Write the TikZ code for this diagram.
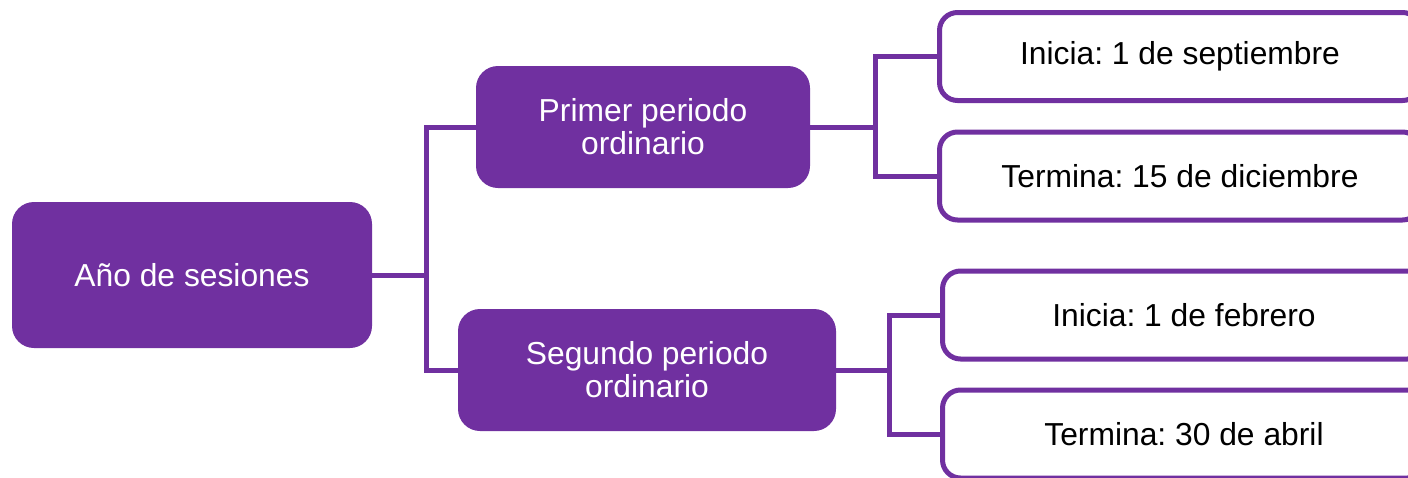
\documentclass[tikz,border=0pt]{standalone}
\usepackage{fontspec}
\setmainfont{Liberation Sans}
\frenchspacing
\definecolor{lila}{HTML}{7030A0}
\tikzset{
  filledbox/.style={fill=lila, text=white, rounded corners=22pt, align=center, inner sep=0pt,
    font=\fontsize{31.8}{33}\selectfont},
  outlinebox/.style={draw=lila, line width=5pt, fill=white, rounded corners=18pt, align=center, inner sep=0pt,
    minimum height=88pt, text=black, font=\fontsize{31.8}{33}\selectfont},
  link/.style={draw=lila, line width=5pt}
}
\begin{document}
\begin{tikzpicture}[x=1pt,y=-1pt]
\useasboundingbox (0,0) rectangle (1408,477);
\clip (0,0) rectangle (1408,477);
\node[filledbox, minimum width=360pt, minimum height=146pt] (root) at (192,275) {Año de sesiones};
\node[filledbox, minimum width=334pt, minimum height=122pt] (p1) at (643,127) {Primer periodo\\ordinario};
\node[filledbox, minimum width=378pt, minimum height=122pt] (p2) at (647,370) {Segundo periodo\\ordinario};
\node[outlinebox, minimum width=481pt] (b1) at (1180,56.5) {Inicia: 1 de septiembre};
\node[outlinebox, minimum width=481pt] (b2) at (1180,176) {Termina: 15 de diciembre};
\node[outlinebox, minimum width=483pt] (b3) at (1184,315) {Inicia: 1 de febrero};
\node[outlinebox, minimum width=483pt] (b4) at (1184,434) {Termina: 30 de abril};
\coordinate (j1) at (426,275);
\coordinate (j2) at (875,127);
\coordinate (j3) at (889,370);
\draw[link] (root.east) -- (j1) |- (p1.west);
\draw[link] (j1) |- (p2.west);
\draw[link] (p1.east) -- (j2) |- (b1.west);
\draw[link] (j2) |- (b2.west);
\draw[link] (p2.east) -- (j3) |- (b3.west);
\draw[link] (j3) |- (b4.west);
\end{tikzpicture}
\end{document}
